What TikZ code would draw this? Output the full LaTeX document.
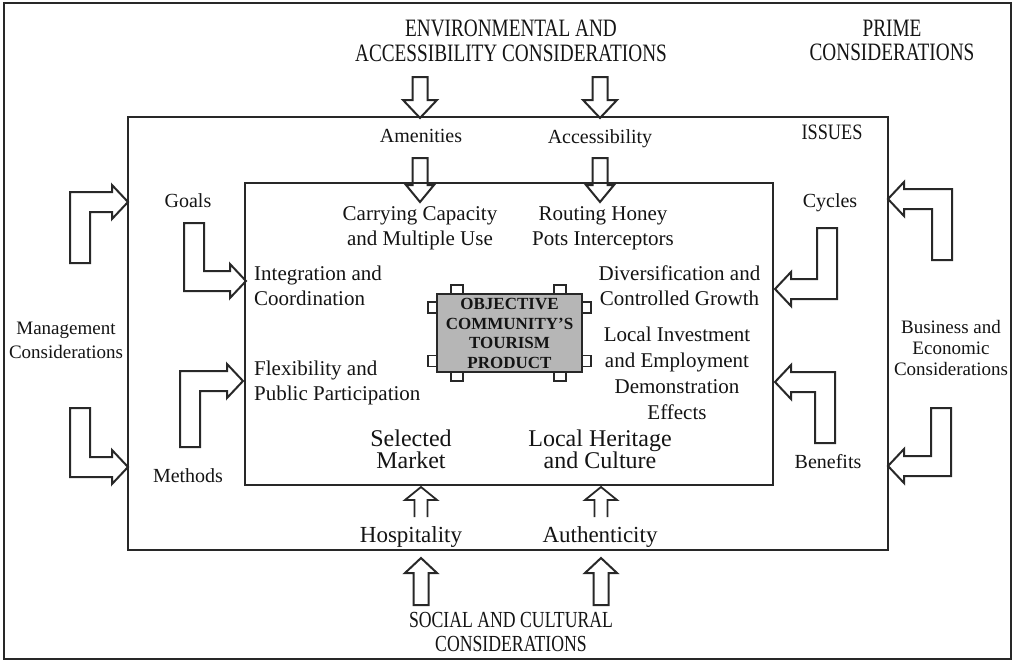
\documentclass[tikz,border=0pt]{standalone}
\usepackage{fontspec}
\setmainfont{Liberation Serif}
\newfontfamily\condfont[FakeStretch=0.77]{Liberation Serif}
\newfontfamily\condfontb[FakeStretch=0.83]{Liberation Serif}
\definecolor{linecol}{RGB}{40,40,40}
\definecolor{txtcol}{RGB}{20,20,20}
\definecolor{boxgray}{RGB}{182,182,182}
% vx, y0, hy, tx, d (1 right, -1 left), s (1 shaft goes up from free end, -1 down)
\newcommand\myBentArrow[6]{%
  \draw[blockarrow] ({#1-(#5)*10},{#2}) -- ({#1-(#5)*10},{#3-(#6)*10})
    -- ({#4-(#5)*16},{#3-(#6)*10}) -- ({#4-(#5)*16},{#3-(#6)*17})
    -- ({#4},{#3}) -- ({#4-(#5)*16},{#3+(#6)*17})
    -- ({#4-(#5)*16},{#3+(#6)*10}) -- ({#1+(#5)*10},{#3+(#6)*10})
    -- ({#1+(#5)*10},{#2}) -- cycle;}
% x, y0, ytip, s (1 down, -1 up), head half width, head length
\newcommand\myVArrow[6]{%
  \draw[blockarrow] ({#1-7.5},{#2}) -- ({#1-7.5},{#3-(#4)*(#6)})
    -- ({#1-(#5)},{#3-(#4)*(#6)}) -- ({#1},{#3})
    -- ({#1+(#5)},{#3-(#4)*(#6)}) -- ({#1+7.5},{#3-(#4)*(#6)})
    -- ({#1+7.5},{#2}) -- cycle;}
% x, y0 (bottom), ytip
\newcommand\myDblArrow[3]{%
  \draw[thinarrow] ({#1-6.5},{#2}) -- ({#1-6.5},{#3+13}) -- ({#1-16},{#3+13})
    -- ({#1},{#3}) -- ({#1+16},{#3+13}) -- ({#1+6.5},{#3+13}) -- ({#1+6.5},{#2});}
\begin{document}
\begin{tikzpicture}[x=1pt,y=-1pt,
  box/.style={draw=linecol, inner sep=0pt},
  blockarrow/.style={draw=linecol, line width=2pt, line join=miter},
  thinarrow/.style={draw=linecol, line width=1.8pt, line join=miter},
  sq/.style={draw=linecol, fill=white, line width=1.3pt, inner sep=0pt},
  lbl/.style={inner sep=0pt, text=txtcol, align=center},
  capsT/.style={lbl, font=\condfont\fontsize{25}{25}\selectfont},
  capsS/.style={lbl, font=\condfont\fontsize{23}{24}\selectfont},
  lbl19/.style={lbl, font=\fontsize{19}{24}\selectfont},
  lbl20/.style={lbl, font=\fontsize{20}{24}\selectfont},
  lbl21/.style={lbl, font=\fontsize{21}{25}\selectfont},
  lbl23/.style={lbl, font=\fontsize{23}{25}\selectfont},
  lbl24/.style={lbl, font=\fontsize{24}{22}\selectfont},
  obj/.style={lbl, font=\bfseries\fontsize{17}{19.5}\selectfont}]
\useasboundingbox (0,0) rectangle (1014,662);
\fill[white] (0,0) rectangle (1014,662);
% frames
\node[box, line width=2.2pt, minimum width=1007pt, minimum height=656pt] (outer) at (507.5,331) {};
\node[box, line width=2.6pt, minimum width=760pt, minimum height=433pt] (mid) at (508,333.5) {};
\node[box, line width=2.4pt, minimum width=528pt, minimum height=302pt] (inner) at (509,334) {};
% small squares around the objective box
\node[sq, minimum width=12pt, minimum height=9pt] (sqt1) at (457,289.5) {};
\node[sq, minimum width=12pt, minimum height=9pt] (sqt2) at (560,289.5) {};
\node[sq, minimum width=12pt, minimum height=9pt] (sqb1) at (457,376.5) {};
\node[sq, minimum width=12pt, minimum height=9pt] (sqb2) at (560,376.5) {};
\node[sq, minimum width=9pt, minimum height=11pt] (sql1) at (432.5,307.5) {};
\node[sq, minimum width=9pt, minimum height=11pt] (sql2) at (432.5,361) {};
\node[sq, minimum width=9pt, minimum height=11pt] (sqr1) at (586.5,307.5) {};
\node[sq, minimum width=9pt, minimum height=11pt] (sqr2) at (586.5,361) {};
\node[box, fill=boxgray, line width=1.8pt, minimum width=145pt, minimum height=78pt] (objbox) at (509.5,333) {};
\node[obj] (objtext) at (509.5,333.5) {OBJECTIVE\\COMMUNITY'S\\TOURISM\\PRODUCT};
% texts
\node[capsT] (env) at (511,41.3) {ENVIRONMENTAL AND\\ACCESSIBILITY CONSIDERATIONS};
\node[lbl, font=\condfont\fontsize{25}{24}\selectfont] (prime) at (892,40.7) {PRIME\\CONSIDERATIONS};
\node[lbl, font=\condfontb\fontsize{22}{22}\selectfont] (issues) at (832,132.7) {ISSUES};
\node[lbl20] (amen) at (421,136.4) {Amenities};
\node[lbl20] (acc) at (600,138.3) {Accessibility};
\node[lbl21] (carry) at (420,228.6) {Carrying Capacity\\and Multiple Use};
\node[lbl21] (rout) at (603,228.6) {Routing Honey\\Pots Interceptors};
\node[lbl21, anchor=west, align=left] (integ) at (254,285.5) {Integration and\\Coordination};
\node[lbl21] (divers) at (679.5,285.5) {Diversification and\\Controlled Growth};
\node[lbl, font=\fontsize{21}{26}\selectfont] (invest) at (677,372.9) {Local Investment\\and Employment\\Demonstration\\Effects};
\node[lbl21, anchor=west, align=left] (flex) at (254,382.6) {Flexibility and\\Public Participation};
\node[lbl24] (sel) at (411,449) {Selected\\Market};
\node[lbl24] (herit) at (600,449) {Local Heritage\\and Culture};
\node[lbl23] (hosp) at (411,536.7) {Hospitality};
\node[lbl23] (auth) at (600,536.7) {Authenticity};
\node[capsS] (social) at (511,632.4) {SOCIAL AND CULTURAL\\CONSIDERATIONS};
\node[lbl20] (goals) at (188,200.2) {Goals};
\node[lbl20] (methods) at (188,475.2) {Methods};
\node[lbl20] (cycles) at (830,202.3) {Cycles};
\node[lbl20] (benef) at (828,461.2) {Benefits};
\node[lbl19] (manag) at (66,340.7) {Management\\Considerations};
\node[lbl, font=\fontsize{19}{21}\selectfont] (busin) at (951,347.7) {Business and\\Economic\\Considerations};
% straight block arrows
\myVArrow{420}{77}{118}{1}{17}{18}
\myVArrow{600}{77}{118}{1}{17}{18}
\myVArrow{420}{158}{202}{1}{14}{17}
\myVArrow{600}{158}{202}{1}{14}{17}
\myVArrow{421}{605}{558}{-1}{16}{15}
\myVArrow{601}{605}{558}{-1}{16}{15}
% double arrows
\myDblArrow{421}{517}{487}
\myDblArrow{601}{517}{487}
% bent block arrows
\myBentArrow{80}{263}{202}{128}{1}{1}
\myBentArrow{80}{408}{467}{128}{1}{-1}
\myBentArrow{194}{223}{281}{246}{1}{-1}
\myBentArrow{190}{447}{381}{243}{1}{1}
\myBentArrow{827}{228}{289}{775}{-1}{-1}
\myBentArrow{942}{260}{199}{888}{-1}{1}
\myBentArrow{825}{443}{382}{775}{-1}{1}
\myBentArrow{941}{408}{466}{888}{-1}{-1}
\end{tikzpicture}
\end{document}
